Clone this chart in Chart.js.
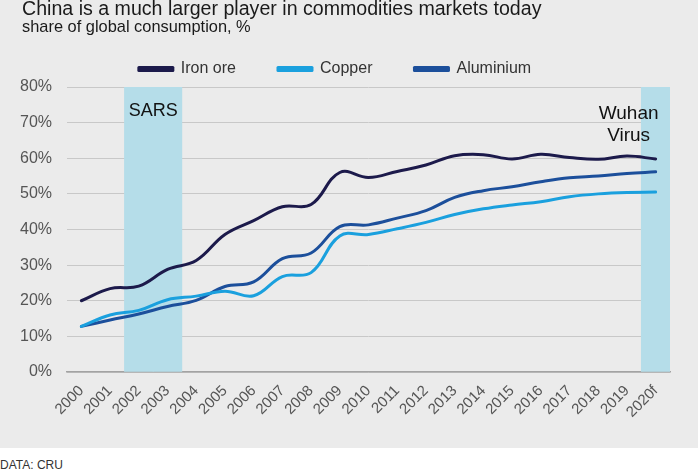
<!DOCTYPE html>
<html>
<head>
<meta charset="utf-8">
<script src="https://cdn.jsdelivr.net/npm/chart.js@4"></script>
<style>
  html, body { margin: 0; padding: 0; background: #ffffff; }
  body { width: 698px; height: 470px; position: relative; overflow: hidden; font-family: "Liberation Sans", Arial, sans-serif; }
  #panel { position: absolute; left: 0; top: 0; width: 698px; height: 448px; background: #ebebeb; }
  #title { position: absolute; left: 22px; top: -3px; font-size: 19.6px; color: #1a1a1a; white-space: nowrap; line-height: normal; }
  #subtitle { position: absolute; left: 22px; top: 17px; font-size: 16.4px; color: #1a1a1a; white-space: nowrap; line-height: normal; }
  #source { position: absolute; left: 0; top: 458px; font-size: 12px; color: #333; white-space: nowrap; line-height: normal; }
  canvas { position: absolute; left: 0; top: 0; }
</style>
</head>
<body>
<div id="panel">
  <canvas id="c" width="698" height="448"></canvas>
  <div id="title">China is a much larger player in commodities markets today</div>
  <div id="subtitle">share of global consumption, %</div>
</div>
<div id="source">DATA: CRU</div>
<script>
const categories = ['2000','2001','2002','2003','2004','2005','2006','2007','2008','2009','2010',
                    '2011','2012','2013','2014','2015','2016','2017','2018','2019','2020f'];
const ironOre   = [20.0, 23.4, 24.1, 28.8, 31.3, 38.6, 42.5, 46.4, 47.0, 56.0, 54.6,
                   56.3, 58.1, 60.7, 61.0, 59.8, 61.1, 60.2, 59.7, 60.6, 59.8];
const copper    = [12.8, 16.0, 17.3, 20.3, 21.3, 22.7, 21.4, 26.8, 27.9, 38.2, 38.6,
                   40.2, 42.0, 44.2, 45.8, 46.9, 47.8, 49.2, 50.0, 50.4, 50.5];
const aluminium = [12.8, 14.6, 16.3, 18.4, 20.1, 24.0, 25.3, 31.8, 33.4, 40.8, 41.3,
                   43.2, 45.3, 49.0, 50.9, 52.0, 53.4, 54.5, 55.0, 55.7, 56.2];
const seriesNames = ['Iron ore', 'Copper', 'Aluminium'];
const eventYears = ['2002', '2003', '2020f'];
const yTicks = [0, 10, 20, 30, 40, 50, 60, 70, 80];
const yMax = 80;

const bandData = categories.map(c => eventYears.includes(c) ? yMax : null);

const annotations = {
  id: 'eventLabels',
  afterDatasetsDraw(chart) {
    const ctx = chart.ctx;
    const x = chart.scales.x, y = chart.scales.y;
    const top = y.getPixelForValue(yMax);
    ctx.save();
    ctx.fillStyle = '#111111';
    ctx.textAlign = 'center';
    ctx.textBaseline = 'alphabetic';
    ctx.font = '18px "Liberation Sans", Arial, sans-serif';
    const sx = (x.getPixelForValue(categories.indexOf('2002')) + x.getPixelForValue(categories.indexOf('2003'))) / 2;
    ctx.fillText('SARS', sx, top + 29);
    ctx.font = '19px "Liberation Sans", Arial, sans-serif';
    const wx = x.getPixelForValue(categories.indexOf('2020f')) - 27;
    ctx.fillText('Wuhan', wx, top + 32);
    ctx.fillText('Virus', wx, top + 54);
    ctx.restore();
  }
};

const lineStyle = (label, data, color) => ({
  type: 'line', label, data,
  borderColor: color, backgroundColor: color,
  borderWidth: 3, pointRadius: 0, pointHoverRadius: 0,
  tension: 0.4, borderCapStyle: 'round', borderJoinStyle: 'round',
  fill: false, order: 0
});

new Chart(document.getElementById('c'), {
  type: 'line',
  data: {
    labels: categories,
    datasets: [
      lineStyle(seriesNames[0], ironOre, '#1c1a4b'),
      lineStyle(seriesNames[1], copper, '#1aa0de'),
      lineStyle(seriesNames[2], aluminium, '#1c4f9b'),
      {
        type: 'bar', label: 'band', data: bandData,
        backgroundColor: '#b5dde9', borderWidth: 0,
        barPercentage: 1.0, categoryPercentage: 1.0, order: 5
      }
    ]
  },
  plugins: [annotations],
  options: {
    responsive: false,
    animation: false,
    layout: { padding: { top: 19, right: 28, left: 0, bottom: 0 } },
    plugins: {
      tooltip: { enabled: false },
      legend: {
        position: 'top',
        align: 'center',
        labels: {
          filter: item => item.text !== 'band',
          boxWidth: 34, boxHeight: 3,
          padding: 42,
          color: '#333333',
          font: { size: 16, family: '"Liberation Sans", Arial, sans-serif' }
        }
      }
    },
    scales: {
      x: {
        offset: true,
        grid: { display: false, drawTicks: false },
        border: { display: true, color: '#a3a3a3', width: 1.5 },
        ticks: {
          autoSkip: false, minRotation: 45, maxRotation: 45, padding: 10,
          color: '#555555',
          font: { size: 15, family: '"Liberation Sans", Arial, sans-serif' }
        },
        afterFit(scale) { scale.height = 76; }
      },
      y: {
        min: 0, max: yMax,
        afterBuildTicks(scale) { scale.ticks = yTicks.map(v => ({ value: v })); },
        grid: { color: '#c8c8c8', lineWidth: 1, drawTicks: false },
        border: { display: false },
        ticks: {
          padding: 15, color: '#555555',
          font: { size: 16, family: '"Liberation Sans", Arial, sans-serif' },
          callback: v => v + '%'
        },
        afterFit(scale) { scale.width = 67; }
      }
    }
  }
});
</script>
</body>
</html>
